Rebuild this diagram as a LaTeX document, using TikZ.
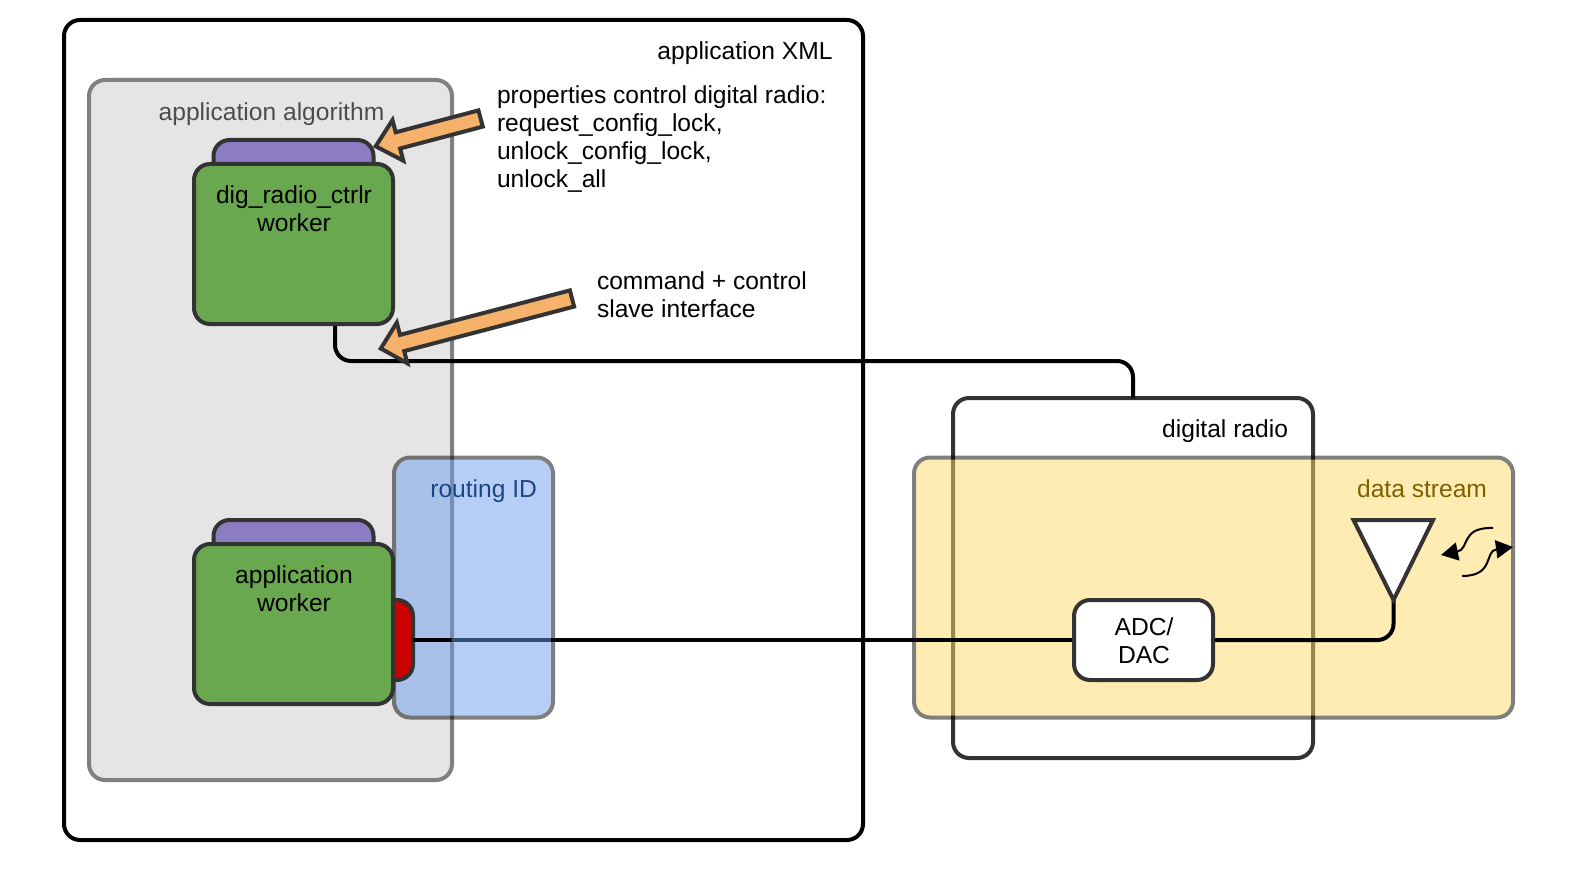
\documentclass[tikz,border=0pt]{standalone}
\usepackage{fontspec}
\setmainfont{Liberation Sans}
\usetikzlibrary{arrows.meta}
\definecolor{edge}{HTML}{333333}
\definecolor{workergreen}{HTML}{6AA84F}
\definecolor{propurple}{HTML}{8E7CC3}
\definecolor{portred}{HTML}{CC0000}
\definecolor{notearrow}{HTML}{F6B26B}
\pgfdeclarelayer{back}
\pgfdeclarelayer{wires}
\pgfsetlayers{back,wires,main}
\tikzset{
  every node/.style={font=\fontsize{24.6}{28}\selectfont,inner sep=0pt,outer sep=0pt},
  box/.style={draw=edge,line width=4pt,rounded corners=16pt},
  wire/.style={draw=black,line width=4pt,rounded corners=16pt},
  worker/.style={box,fill=workergreen,minimum width=199pt,minimum height=160pt},
  props/.style={box,fill=propurple,minimum width=160pt,minimum height=60pt},
  note/.style={draw=edge,line width=4pt,fill=notearrow,miter limit=10},
  wave/.style={line width=2pt,-{Triangle[length=17pt,width=18pt]}},
  caption/.style={align=center,anchor=base}
}
\begin{document}
\begin{tikzpicture}[x=1pt,y=-1pt]
\useasboundingbox (0,0) rectangle (1593,880);
\begin{pgfonlayer}{back}
% Cajas de fondo
\node[box,draw=black,minimum width=799pt,minimum height=820pt] (appxml) at (463.5,430) {};
\node[box,draw=black!50,fill=black!10,minimum width=363pt,minimum height=700pt] (algo) at (270.5,430) {};
\node[box,minimum width=360pt,minimum height=360pt] (radio) at (1133,578) {};
\begin{scope}[transparency group,opacity=0.5]
\node[box,draw=black,fill={rgb,255:red,255;green,217;blue,102},minimum width=599pt,minimum height=260pt] (stream) at (1213.5,587.5) {};
\end{scope}
\end{pgfonlayer}
% Etiquetas
\node[anchor=base east] (appxmltext) at (832.5,60) {application XML};
\node[anchor=base,text=black!70] (algotext) at (271.5,121) {application algorithm};
\node[anchor=base east] (radiotext) at (1288,437) {digital radio};
\node[anchor=base east,text={rgb,255:red,127;green,96;blue,0}] (streamtext) at (1487,497) {data stream};
% Routing
\begin{scope}[transparency group,opacity=0.5]
\node[box,draw=black,fill={rgb,255:red,109;green,158;blue,235},minimum width=159pt,minimum height=260pt] (routing) at (473.5,587.5) {};
\end{scope}
\node[anchor=base east,text={rgb,255:red,28;green,69;blue,135}] (routingtext) at (537,497) {routing ID};
% Workers
\node[props] (digprops) at (293.5,170) {};
\node[worker] (digworker) at (293.5,244) {};
\node[caption] (digtext) at (294,231) {dig\_radio\_ctrlr\\worker};
\node[props] (appprops) at (293.5,550) {};
\node[box,fill=portred,minimum width=40pt,minimum height=80pt] (port) at (393,640) {};
\node[worker] (appworker) at (293.5,624) {};
\node[caption] (apptext) at (294,611) {application\\worker};
% ADC y antena
\node[box,fill=white,minimum width=139pt,minimum height=80pt] (adc) at (1143.5,640) {};
\node[caption] (adctext) at (1144,663) {ADC/\\DAC};
\draw[box,fill=white,rounded corners=0pt,miter limit=10] (1353.5,520) -- (1433,520) -- (1393.5,600) -- cycle;
\coordinate (antenna) at (1393.5,600);
\begin{pgfonlayer}{wires}
\draw[wire] ([xshift=41.5pt]digworker.south) -- ++(0,37) -| (radio.north);
\draw[wire] (port.east) -- (adc.west);
\draw[wire] (adc.east) -| (antenna);
\end{pgfonlayer}
\draw[line width=4pt] (port.east) -- (port.east -| algo.east);
% Flechas
\draw[note] (478.4,110.4) -- (395.7,132.3) -- (392.5,120.1) -- (375.7,146.3) -- (403.3,160.7) -- (400.1,148.5) -- (482.8,126.6) -- cycle;
\draw[note] (569.9,290.4) -- (400,334.9) -- (396.8,322.7) -- (380.8,348.5) -- (407.4,363.3) -- (404.2,351.1) -- (574.1,306.6) -- cycle;
\node[align=left,anchor=base west] (proptext) at (497,187) {properties control digital radio:\\request\_config\_lock,\\unlock\_config\_lock,\\unlock\_all};
\node[align=left,anchor=base west] (slavetext) at (597,317) {command + control\\slave interface};
% Ondas
\draw[wave] (1493,528) .. controls (1460,527) and (1470,549) .. (1441,555);
\draw[wave] (1462,576) .. controls (1495,576) and (1484,551) .. (1513,547);
\end{tikzpicture}
\end{document}
